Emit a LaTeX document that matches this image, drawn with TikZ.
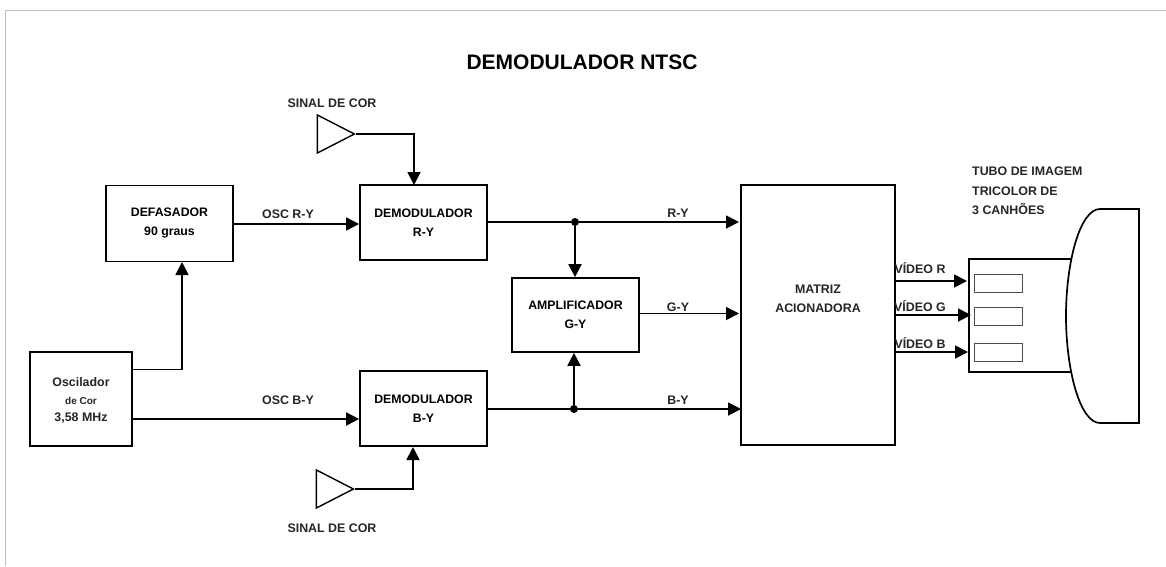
\documentclass[tikz,border=0pt]{standalone}
\usepackage{fontspec}
\setmainfont{Liberation Sans}
\usetikzlibrary{arrows.meta,shapes.geometric}
\tikzset{
  blockbox/.style={draw=black,line width=1.7pt,fill=white,inner sep=0pt,font=\fontsize{12.3}{19}\selectfont\bfseries,align=center},
  lbl/.style={inner sep=0pt,font=\fontsize{12.4}{19}\selectfont\bfseries,align=center,text=black!85},
  tubelbl/.style={inner sep=0pt,font=\fontsize{12.4}{19.5}\selectfont\bfseries,align=left,text=black!85},
  sig/.style={line width=1.8pt,-{Triangle[length=13pt,width=13pt]}},
  wire/.style={line width=1.8pt},
  amptri/.style={draw=black,line width=1.4pt,fill=white,isosceles triangle,isosceles triangle apex angle=54,isosceles triangle stretches,minimum height=37pt,minimum width=38pt,inner sep=0pt},
  dotj/.style={circle,fill=black,minimum size=8pt,inner sep=0pt},
  gun/.style={draw=black!70,line width=1pt,fill=white,minimum width=48pt,minimum height=18pt,inner sep=0pt}
}
\begin{document}
\begin{tikzpicture}[x=1pt,y=-1pt]
\useasboundingbox (0,0) rectangle (1166,566);
\fill[white] (0,0) rectangle (1166,566);
\draw[black!25,line width=1pt] (5.5,566) -- (5.5,10.5) -- (1166,10.5);
\node[inner sep=0pt,font=\fontsize{21}{24}\selectfont\bfseries] (title) at (582,62) {DEMODULADOR NTSC};
% blocks
\node[blockbox,minimum width=127pt,minimum height=76pt] (def) at (169.5,223.5) {DEFASADOR\\90 graus};
\node[blockbox,minimum width=127pt,minimum height=75pt] (dry) at (423.5,222.5) {DEMODULADOR\\R-Y};
\node[blockbox,minimum width=127pt,minimum height=75pt] (dby) at (423.5,408.5) {DEMODULADOR\\B-Y};
\node[blockbox,minimum width=127pt,minimum height=74pt] (amp) at (575.5,315) {AMPLIFICADOR\\G-Y};
\node[blockbox,minimum width=102pt,minimum height=94pt] (osc) at (81,399) {};
\node[lbl] (osct) at (81,382) {Oscilador};
\node[inner sep=0pt,font=\fontsize{10}{12}\selectfont\bfseries,text=black!85] (oscd) at (81,401) {de Cor};
\node[lbl] (oscf) at (81,418.5) {3,58 MHz};
\node[blockbox,minimum width=154pt,minimum height=260pt] (mat) at (818,315) {};
\node[lbl] (matt) at (818,298.5) {MATRIZ\\ACIONADORA};
% triangles
\node[amptri] (t1) at (329,134) {};
\node[amptri] (t2) at (328,489) {};
\node[lbl] (s1) at (332,103) {SINAL DE COR};
\node[lbl] (s2) at (332,528) {SINAL DE COR};
% tube
\draw[line width=1.7pt,fill=white] (1139,209) -- (1100,209)
  .. controls (1080,209) and (1066,262) .. (1066,316)
  .. controls (1066,370) and (1080,423) .. (1100,423) -- (1139,423) -- cycle;
\coordinate (nt) at (1072,259);
\coordinate (nb) at (1072,372);
\draw[line width=1.7pt] (nt) -- (969,259) -- (969,372) -- (nb);
\node[gun] (g1) at (998,283) {};
\node[gun] (g2) at (998,316) {};
\node[gun] (g3) at (998,352) {};
\node[tubelbl,anchor=north west] (tc) at (972,167) {TUBO DE IMAGEM\\TRICOLOR DE\\3 CANHÕES};
% free coordinates
\coordinate (def1) at (def.east |- 0,224);
\coordinate (dry1) at (dry.west |- 0,224);
\coordinate (oscu) at (osc.east |- 0,369.5);
\coordinate (oscb) at (osc.east |- 0,419);
\coordinate (dby1) at (dby.west |- 0,419);
\coordinate (defb) at (182,262);
\coordinate (drt) at (414,185);
\coordinate (dbb) at (413,447);
\coordinate (matr) at (739,222);
\coordinate (matg) at (739,313.5);
\coordinate (matb) at (741,409);
\node[dotj] (ju) at (575,222) {};
\node[dotj] (jl) at (574,409) {};
\coordinate (vr) at (967,281);
\coordinate (vg) at (971,315);
\coordinate (vb) at (968,352);
% connectors
\draw[sig] (def1) -- (dry1);
\draw[sig] (oscb) -- (dby1);
\draw[sig] (oscu) -| (defb);
\draw[sig] (t1.apex) -| (drt);
\draw[sig] (t2.apex) -| (dbb);
\draw[wire] (dry.east |- ju) -- (ju);
\draw[sig] (ju) -- (matr);
\draw[wire] (dby.east |- jl) -- (jl);
\draw[sig] (jl) -- (matb);
\draw[sig] (ju) -- (ju |- amp.north);
\draw[sig] (jl) -- (jl |- amp.south);
\draw[sig] (amp.east |- matg) -- (matg);
\draw[sig] (mat.east |- vr) -- (vr);
\draw[sig] (mat.east |- vg) -- (vg);
\draw[sig] (mat.east |- vb) -- (vb);
% labels
\node[lbl] (l1) at (288,214) {OSC R-Y};
\node[lbl] (l2) at (288,400) {OSC B-Y};
\node[lbl] (l3) at (678,213) {R-Y};
\node[lbl] (l4) at (678,307) {G-Y};
\node[lbl] (l5) at (678,400) {B-Y};
\node[lbl] (v1) at (920,268) {VÍDEO R};
\node[lbl] (v2) at (920,306) {VÍDEO G};
\node[lbl] (v3) at (920,343) {VÍDEO B};
\end{tikzpicture}
\end{document}
